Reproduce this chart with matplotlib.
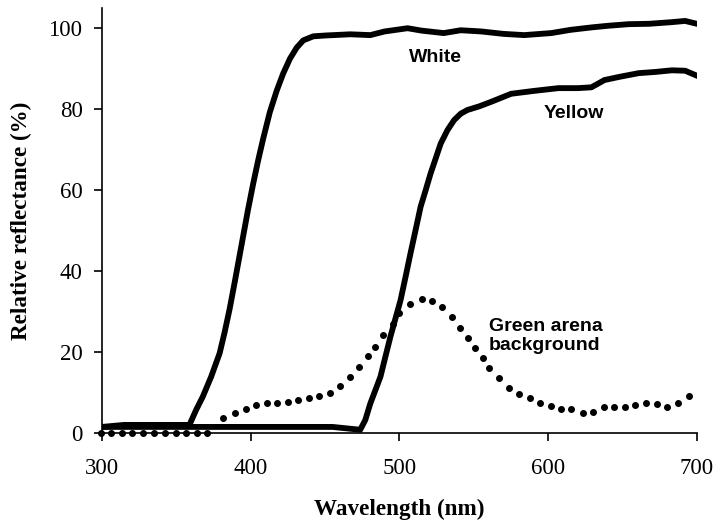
import matplotlib
matplotlib.use("Agg")
import matplotlib.pyplot as plt

# White standard
white_nm = [300, 315, 330, 345, 358.8, 363.3, 367.8, 373.4, 379.1, 382.4, 385.8, 389.2,
            391.4, 394.8, 398.2, 401.6, 404.9, 408.3, 412.8, 417.4, 421.8, 426.4, 430.9,
            435.3, 442.1, 450, 466.9, 480.4, 490, 505.4, 515, 529.7, 541.2, 555, 570,
            583.8, 602, 615, 629, 640, 654, 668, 683, 692, 701]
white_ref = [1.5, 2.0, 2.0, 2.0, 2.0, 5.7, 9.0, 13.9, 19.7, 24.8, 30.6, 37.2,
             41.6, 48.4, 55.2, 61.5, 67.2, 72.6, 79.2, 84.5, 88.8, 92.5, 95.2,
             97.0, 98.0, 98.2, 98.5, 98.3, 99.2, 100, 99.4, 98.8, 99.5, 99.2, 98.6,
             98.3, 98.8, 99.6, 100.2, 100.6, 101, 101.1, 101.5, 101.8, 101]

# Yellow paper
yellow_nm = [300, 350, 400, 455, 473.6, 477.0, 480.4, 483.8, 487.2, 490.5, 493.9, 497.3,
             500.7, 504.1, 507.4, 510.8, 514.2, 517.6, 520.9, 524.3, 527.7, 532.2, 536.7,
             541.2, 545.7, 553.6, 561.5, 575, 590, 606.8, 620, 629, 637.8, 648, 660.8,
             672, 683, 692, 701]
yellow_ref = [1.5, 1.5, 1.5, 1.5, 0.8, 3.2, 7.3, 10.6, 13.9, 18.8, 23.8, 28.3,
              32.8, 38.6, 44.4, 50.1, 55.9, 60.0, 64.1, 67.8, 71.5, 74.8, 77.3,
              78.9, 79.8, 80.7, 81.8, 83.8, 84.5, 85.2, 85.2, 85.4, 87.2, 88.0, 88.9,
              89.2, 89.6, 89.5, 88.1]

# Green arena background (dotted)
green_nm = [299.3, 306.1, 313.5, 320.3, 327.7, 335.1, 342.6, 350, 356.8, 364.2, 370.9,
            381.1, 389.2, 396.6, 403.4, 410.8, 417.6, 425.0, 431.8, 439.2, 445.9, 453.4,
            460.1, 466.9, 473, 479, 483.8, 489.2, 495.3, 500, 506.8, 514.9, 521.6, 528.4,
            535.1, 540.5, 546, 550.7, 556.1, 560.1, 566.9, 573.6, 580.4, 587.8, 594.6,
            602, 608.8, 615.5, 623.6, 630.4, 637.2, 643.9, 651.4, 658.1, 665.5, 673,
            679.7, 687.2, 694.6]
green_ref = [0, 0, 0, 0, 0, 0, 0, 0, 0, 0, 0,
             3.7, 4.9, 5.9, 6.9, 7.4, 7.4, 7.6, 8.1, 8.6, 9.1, 9.9,
             11.6, 13.8, 16.3, 19.0, 21.2, 24.2, 26.9, 29.6, 31.9, 33.1, 32.6, 31.1,
             28.6, 25.9, 23.5, 21.0, 18.5, 16.0, 13.6, 11.1, 9.6, 8.6, 7.4,
             6.7, 5.9, 5.9, 4.9, 5.2, 6.4, 6.4, 6.4, 6.9, 7.4, 7.2,
             6.4, 7.4, 9.1]

serif = ["Liberation Serif", "DejaVu Serif"]
sans = ["Liberation Sans", "DejaVu Sans"]

fig = plt.figure(figsize=(7.13, 5.22), dpi=100)
ax = fig.add_axes([0.143, 0.1705, 0.8346, 0.8142])

ax.plot(white_nm, white_ref, color="black", lw=4.2, solid_capstyle="round", solid_joinstyle="round")
ax.plot(yellow_nm, yellow_ref, color="black", lw=4.2, solid_capstyle="round", solid_joinstyle="round")
ax.plot(green_nm, green_ref, ls="none", marker="o", ms=4.0, color="black", clip_on=False)

ax.set_xlim(300, 700)
ax.set_ylim(0, 105)
ax.set_xticks([300, 400, 500, 600, 700])
ax.set_yticks([0, 20, 40, 60, 80, 100])

for s in ["top", "right"]:
    ax.spines[s].set_visible(False)
for s in ["left", "bottom"]:
    ax.spines[s].set_linewidth(1.2)

ax.tick_params(direction="out", length=6, width=1.2, labelsize=16.5)
ax.tick_params(axis="x", pad=12)
ax.tick_params(axis="y", pad=8)
for lab in ax.get_xticklabels() + ax.get_yticklabels():
    lab.set_family(serif)

ax.set_xlabel("Wavelength (nm)", family=serif, fontweight="bold", fontsize=16.7, labelpad=14)
ax.set_ylabel("Relative reflectance (%)", family=serif, fontweight="bold", fontsize=16.7, labelpad=12)

ax.text(524, 92.8, "White", family=sans, fontweight="bold", fontsize=14, ha="center", va="center")
ax.text(617, 79, "Yellow", family=sans, fontweight="bold", fontsize=14, ha="center", va="center")
ax.text(560, 24, "Green arena\nbackground", family=sans, fontweight="bold", fontsize=14,
        ha="left", va="center", linespacing=1.2)

fig.savefig("out.png", dpi=100)
